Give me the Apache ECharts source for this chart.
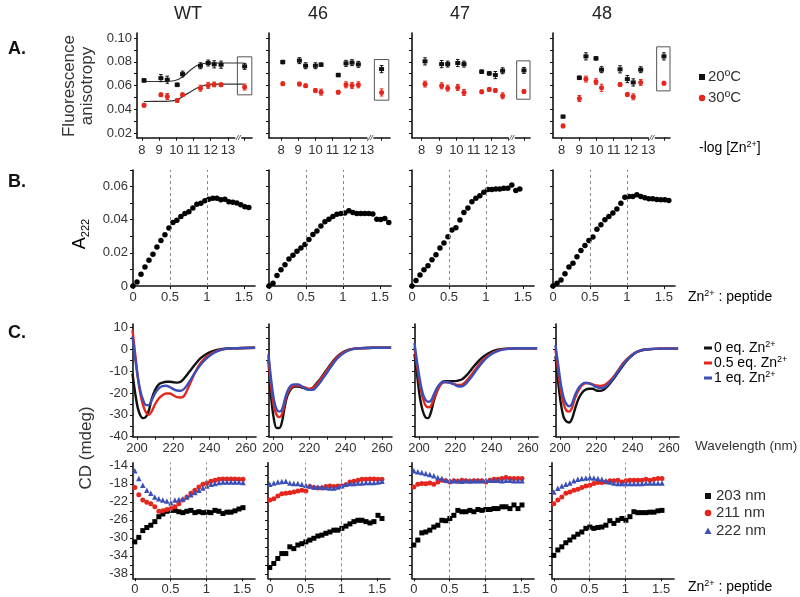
<!DOCTYPE html>
<html>
<head>
<meta charset="utf-8">
<script src="https://cdn.jsdelivr.net/npm/echarts@6/dist/echarts.min.js"></script>
<style>
  html, body { margin: 0; background: #fff; }
  #chart { width: 800px; height: 597px; }
</style>
</head>
<body>
<div id="chart"></div>
<script>
// ---- data ----
const panelNames = ['WT', '46', '47', '48'];

// A. fluorescence anisotropy vs -log[Zn2+]
const logZn = [
  [8.12, 9.1, 9.47, 10.05, 10.36, 11.4, 11.85, 12.2, 12.6, 13.97],
  [8.1, 9.07, 9.43, 10.0, 10.33, 11.33, 11.78, 12.13, 12.5, 13.85],
  [8.19, 9.15, 9.5, 10.08, 10.44, 11.46, 11.9, 12.25, 12.67, 13.9],
  [8.08, 9.02, 9.4, 9.98, 10.3, 11.37, 11.79, 12.13, 12.56, 13.9]
];
const aniso20 = [
  [0.0644, 0.0663, 0.065, 0.0607, 0.0697, 0.0767, 0.079, 0.0779, 0.0776, 0.0762],
  [0.0798, 0.081, 0.0767, 0.0767, 0.0776, 0.0689, 0.0787, 0.0793, 0.0779, 0.0739],
  [0.0804, 0.0781, 0.0781, 0.079, 0.0781, 0.0717, 0.0703, 0.0689, 0.0725, 0.0728],
  [0.034, 0.0666, 0.0846, 0.0829, 0.0734, 0.0737, 0.0655, 0.0627, 0.0734, 0.0846]
];
const aniso30 = [
  [0.0436, 0.0523, 0.0509, 0.0475, 0.0523, 0.0579, 0.0602, 0.061, 0.0607, 0.0588],
  [0.0616, 0.0613, 0.0599, 0.056, 0.0545, 0.0545, 0.0607, 0.0602, 0.0607, 0.0543],
  [0.0613, 0.0599, 0.0579, 0.0585, 0.0543, 0.0548, 0.0568, 0.056, 0.0515, 0.0551],
  [0.0262, 0.0492, 0.0655, 0.0633, 0.0582, 0.061, 0.0526, 0.0506, 0.0627, 0.0621]
];
const err20 = [
  [0.0015, 0.003, 0.003, 0.0015, 0.0025, 0.0025, 0.0025, 0.003, 0.003, 0.0025],
  [0.0015, 0.0025, 0.0025, 0.0025, 0.0015, 0.0015, 0.0025, 0.0025, 0.0025, 0.003],
  [0.003, 0.003, 0.0025, 0.003, 0.0025, 0.0015, 0.0015, 0.003, 0.0025, 0.0025],
  [0.0012, 0.0015, 0.003, 0.0015, 0.0025, 0.003, 0.003, 0.003, 0.0025, 0.003]
];
const err30 = [
  [0.0015, 0.0015, 0.0025, 0.0015, 0.0015, 0.0025, 0.0025, 0.002, 0.0015, 0.0025],
  [0.0015, 0.0015, 0.0015, 0.0015, 0.0025, 0.0015, 0.0025, 0.0025, 0.0025, 0.003],
  [0.0025, 0.0025, 0.0025, 0.0025, 0.0025, 0.0015, 0.0015, 0.0015, 0.0025, 0.0015],
  [0.0015, 0.0025, 0.0025, 0.0025, 0.003, 0.0015, 0.0015, 0.0025, 0.0025, 0.0015]
];
// WT fitted curves (traced)
const fitX = [8.1, 9.0, 9.6, 10.1, 10.5, 10.9, 11.3, 11.7, 12.1, 13.9];
const fit20 = [0.0635, 0.0635, 0.0637, 0.0652, 0.069, 0.074, 0.0775, 0.0788, 0.079, 0.079];
const fit30 = [0.0467, 0.0468, 0.047, 0.0485, 0.052, 0.0555, 0.0587, 0.0605, 0.0612, 0.0613];
const breakAt = [13.6, 13.2, 13.2, 13.2];

// B. A222 vs Zn2+ : peptide
const ratioB = [0, 0.054, 0.108, 0.162, 0.216, 0.27, 0.324, 0.378, 0.432, 0.486, 0.54, 0.594, 0.648,
  0.702, 0.756, 0.81, 0.864, 0.918, 0.972, 1.026, 1.08, 1.134, 1.188, 1.242, 1.296, 1.35, 1.404,
  1.458, 1.512, 1.566, 1.62];
const a222 = [
  [0, 0.0024, 0.0071, 0.0114, 0.0155, 0.0191, 0.0236, 0.0275, 0.031, 0.035, 0.0383, 0.0397, 0.042,
   0.0437, 0.0448, 0.047, 0.0494, 0.0499, 0.0515, 0.0523, 0.0529, 0.0529, 0.0521, 0.0523, 0.0509,
   0.0505, 0.0501, 0.049, 0.0478, 0.0474],
  [0, 0.0016, 0.0063, 0.0098, 0.0128, 0.0163, 0.0185, 0.021, 0.023, 0.025, 0.0281, 0.0311, 0.0332,
   0.0362, 0.0387, 0.0403, 0.0419, 0.0433, 0.0438, 0.044, 0.0454, 0.0444, 0.0438, 0.0438, 0.0438,
   0.0438, 0.0435, 0.0403, 0.0401, 0.0407, 0.0383],
  [0, 0.0033, 0.0067, 0.0098, 0.0122, 0.0159, 0.0189, 0.023, 0.026, 0.0297, 0.0338, 0.0352, 0.0399,
   0.0444, 0.047, 0.0509, 0.053, 0.0545, 0.0566, 0.0582, 0.0582, 0.0586, 0.0586, 0.059, 0.059,
   0.061, 0.0576, 0.0586],
  [0, 0.0016, 0.0036, 0.0074, 0.0114, 0.0138, 0.0176, 0.0214, 0.0244, 0.0274, 0.0296, 0.0342, 0.037,
   0.04, 0.042, 0.044, 0.0464, 0.05, 0.0536, 0.054, 0.054, 0.055, 0.054, 0.0532, 0.0526, 0.0526,
   0.0522, 0.052, 0.052, 0.0516]
];
const guideRatios = [0.5, 1];

// C (top). CD spectra
const wl = [197.5, 199, 200.5, 202, 203.5, 205, 206.5, 208, 210, 212, 214, 216, 218, 220, 222, 224,
  226, 229, 232, 235, 238, 241, 244, 248, 255, 265];
const cd0 = [
  [-11, -20, -27, -30.5, -31.5, -30.8, -28, -23, -18.5, -16, -15.2, -14.8, -14.8, -15, -15.2, -14.8,
   -13.2, -10, -6.8, -4, -2.2, -1, -0.2, 0.4, 0.6, 0.8],
  [-5, -22, -32, -36, -36, -33, -26, -21, -18, -17, -17, -17.5, -18, -18.5, -17.5, -15.5,
   -13.5, -10, -6.5, -3.5, -1.5, -0.3, 0.3, 0.6, 0.8, 0.8],
  [-2, -12, -22, -28, -31, -31.5, -29, -24, -19, -15.5, -14.5, -14.5, -14.5, -14.5, -14.2, -13.5,
   -12, -9, -6, -3.5, -1.8, -0.6, 0, 0.4, 0.6, 0.6],
  [-3, -15, -25, -31, -33, -33.5, -32, -28, -23, -20, -18.5, -18, -18, -18.8, -19, -18.5,
   -17, -14, -10.5, -7, -4, -1.8, -0.6, 0, 0.4, 0.4]
];
const cd05 = [
  [9, -2, -13, -21, -26, -29, -30, -28.5, -25, -22.5, -21, -20.2, -20.2, -21, -21.8, -22,
   -21.2, -16, -10.5, -6.2, -3.5, -1.8, -0.6, 0.2, 0.6, 0.8],
  [-3, -17, -26, -30, -31, -29.5, -24.5, -20, -17.5, -16.5, -16.5, -17, -17.5, -18, -17.5, -16,
   -14, -10.5, -7, -3.8, -1.7, -0.4, 0.3, 0.6, 0.8, 0.8],
  [1, -8, -16, -22, -25.5, -26.5, -26, -23, -19, -16, -15, -15, -15.5, -16, -16.3, -16,
   -14.5, -11.5, -8, -5, -2.8, -1.3, -0.3, 0.3, 0.6, 0.6],
  [0, -10, -19, -25, -28, -28.5, -27, -23, -19, -16.5, -15.5, -15.5, -16, -16.5, -16.7, -16.5,
   -15.5, -13, -9.5, -6, -3.5, -1.6, -0.5, 0.1, 0.4, 0.4]
];
const cd1 = [
  [6, -4, -13, -19.5, -23.5, -25.5, -25.5, -23.5, -20, -17.8, -16.8, -16.6, -17.2, -18.2, -18.8, -18.9,
   -18, -14.5, -10.5, -7, -4.3, -2.3, -0.9, 0.2, 0.6, 0.8],
  [-2, -14, -23, -27.5, -28.5, -27.5, -23, -19, -16.5, -16, -16, -17, -18, -18.5, -18.5, -17,
   -15, -11.5, -7.8, -4.5, -2.2, -0.7, 0.2, 0.6, 0.8, 0.8],
  [3, -6, -14, -20, -23, -24, -23.5, -21, -17.5, -15.5, -14.8, -15, -15.5, -16.3, -17, -16.8,
   -15.5, -12.5, -9, -5.8, -3.3, -1.6, -0.5, 0.2, 0.6, 0.6],
  [2, -7, -16, -22, -25, -26, -25, -21.5, -18, -16, -15.2, -15.5, -16.3, -17.2, -17.7, -17.5,
   -16.3, -13.5, -10, -6.5, -3.8, -1.7, -0.5, 0.1, 0.4, 0.4]
];

// C (bottom). CD at fixed wavelengths vs Zn2+ : peptide
const ratioC = [0, 0.056, 0.112, 0.168, 0.224, 0.28, 0.336, 0.392, 0.448, 0.504, 0.56, 0.616, 0.672,
  0.728, 0.784, 0.84, 0.896, 0.952, 1.008, 1.064, 1.12, 1.176, 1.232, 1.288, 1.344, 1.4, 1.456,
  1.512, 1.568, 1.624];
const cd203 = [
  [-30.9, -29.9, -28.4, -27.7, -27.2, -26.4, -25.3, -24.7, -24.1, -23.9, -23.9, -24.2, -24.4, -24.1,
   -23.9, -24.4, -24.2, -24.4, -24.3, -24.4, -23.9, -24.1, -24.6, -24.3, -24.3, -24.0, -23.6, -23.3],
  [-36.6, -35.7, -34.6, -33.5, -33.5, -32.0, -32.4, -31.6, -31.3, -30.9, -30.5, -30.1, -29.6, -29.4,
   -29.0, -28.7, -28.3, -28.3, -27.9, -27.4, -26.9, -26.4, -26.1, -26.1, -26.4, -26.7, -26.4, -25.0, -25.7],
  [-31.6, -30.5, -28.9, -28.7, -28.3, -27.6, -27.2, -26.1, -26.2, -25.7, -25.0, -23.9, -24.2, -24.2,
   -23.9, -24.2, -23.7, -23.9, -23.7, -23.7, -23.5, -23.5, -23.1, -23.1, -23.5, -22.7, -23.5, -22.7],
  [-33.9, -32.7, -32.0, -31.1, -30.5, -29.8, -29.2, -28.7, -27.9, -27.6, -27.9, -27.7, -27.6, -27.2,
   -26.2, -26.8, -26.1, -25.7, -26.1, -25.3, -24.2, -24.4, -24.4, -24.4, -24.3, -24.3, -24.0, -23.9]
];
const cd211 = [
  [-18.8, -20.4, -21.6, -22.1, -22.4, -23.1, -24.1, -24.0, -23.7, -23.5, -23.1, -22.4, -21.6, -20.9,
   -20.1, -19.4, -18.7, -18.1, -17.8, -17.4, -17.2, -17.0, -16.9, -16.9, -16.9, -16.9, -17.0, -17.0],
  [-21.6, -21.3, -20.7, -20.2, -20.1, -20.0, -19.8, -19.6, -19.4, -19.6, -18.6, -18.8, -18.9, -18.9,
   -18.6, -18.5, -18.6, -18.5, -18.5, -18.2, -17.6, -17.4, -17.2, -17.0, -17.0, -16.9, -16.9, -17.0, -17.0],
  [-18.7, -18.1, -17.9, -18.0, -17.8, -18.1, -17.6, -17.2, -17.3, -17.6, -17.3, -17.4, -17.2, -17.3,
   -17.4, -17.3, -17.3, -17.3, -17.6, -17.2, -17.0, -17.0, -16.8, -16.6, -16.8, -16.8, -16.8, -16.8],
  [-22.4, -21.6, -20.9, -20.1, -19.8, -19.4, -19.2, -18.8, -18.5, -18.3, -17.9, -17.7, -17.7, -17.6,
   -17.3, -17.3, -17.2, -17.6, -17.3, -17.2, -17.2, -17.2, -17.2, -17.0, -17.2, -17.0, -16.8, -16.8]
];
const cd222 = [
  [-15.1, -16.8, -18.3, -19.4, -20.1, -20.9, -21.3, -21.6, -21.8, -22.2, -21.6, -21.5, -21.3, -20.9,
   -20.4, -19.9, -19.4, -18.9, -18.5, -18.1, -17.9, -17.7, -17.6, -17.6, -17.6, -17.6, -17.6, -17.7],
  [-18.1, -17.8, -17.6, -17.5, -17.4, -17.8, -17.9, -17.9, -18.1, -18.3, -18.5, -18.7, -18.7, -18.7,
   -18.8, -18.9, -18.9, -18.7, -18.4, -18.1, -17.9, -17.9, -17.8, -17.8, -17.7, -17.7, -17.7, -17.6, -17.4],
  [-15.1, -15.3, -15.5, -15.7, -15.9, -16.2, -16.6, -16.8, -17.2, -17.3, -17.3, -17.3, -17.4, -17.3,
   -17.3, -17.3, -17.3, -17.3, -17.2, -17.2, -17.2, -17.2, -17.3, -17.2, -17.2, -17.3, -17.3, -17.3],
  [-19.8, -19.0, -18.5, -18.1, -17.8, -17.3, -17.0, -16.8, -16.7, -16.6, -16.7, -16.8, -17.0, -17.3,
   -17.6, -17.8, -17.9, -17.9, -17.9, -17.9, -17.9, -17.9, -17.9, -17.8, -17.8, -17.8, -17.8, -17.8]
];

// ---- drawing ----
const FONT = '"Liberation Sans", Arial, sans-serif';
const INK = '#111';
const RED = '#e5261c';
const BLUE = '#3b4fb6';
const LABEL = '#333';

const grids = [], xAxes = [], yAxes = [], series = [];

function axis(min, max, labelVals, tickVals, showLabels, fmt) {
  return {
    type: 'value', min: min, max: max,
    splitLine: { show: false },
    axisLine: { show: true, onZero: false, lineStyle: { color: INK, width: 1.6 } },
    axisTick: { show: true, length: 3, customValues: tickVals, lineStyle: { color: INK, width: 1 } },
    axisLabel: {
      show: showLabels, customValues: labelVals, color: LABEL, fontSize: 13,
      fontFamily: FONT, margin: 5, formatter: fmt
    }
  };
}

function addGrid(box, xa, ya) {
  const i = grids.length;
  grids.push({ left: box[0], top: box[1], width: box[2], height: box[3] });
  xa.gridIndex = i;
  ya.gridIndex = i;
  xAxes.push(xa);
  yAxes.push(ya);
  return i;
}

function errBar(color) {
  return function (params, api) {
    const lo = api.coord([api.value(0), api.value(1)]);
    const hi = api.coord([api.value(0), api.value(2)]);
    const st = { stroke: color, lineWidth: 1 };
    return {
      type: 'group', children: [
        { type: 'line', shape: { x1: lo[0], y1: lo[1], x2: hi[0], y2: hi[1] }, style: st },
        { type: 'line', shape: { x1: lo[0] - 1.8, y1: lo[1], x2: lo[0] + 1.8, y2: lo[1] }, style: st },
        { type: 'line', shape: { x1: hi[0] - 1.8, y1: hi[1], x2: hi[0] + 1.8, y2: hi[1] }, style: st }
      ]
    };
  };
}

const guideLine = {
  silent: true, symbol: 'none', label: { show: false },
  lineStyle: { color: '#8a8a8a', type: [3, 3], width: 1 },
  data: guideRatios.map(v => ({ xAxis: v }))
};

const fmt2 = v => (v === 0 ? '0' : v.toFixed(2));

// panel layout
const aLeft = [137, 269, 412, 553], aWidth = [115, 121, 118, 117];
const aMin = [7.71, 7.3, 7.44, 7.5], aMax = [14.4, 14.34, 14.25, 14.25];
const bLeft = [133, 269, 412, 553];
const cLeft = [133, 269, 415, 556];
const dLeft = [133, 268, 412, 552];
const A_YMIN = 0.0163, A_YMAX = 0.1042;

for (let c = 0; c < 4; c++) {
  // ---- A ----
  const ga = addGrid([aLeft[c], 33, aWidth[c], 104.7],
    axis(aMin[c], aMax[c], [8, 9, 10, 11, 12, 13], [8, 9, 10, 11, 12, 13, logZn[c][9]], true),
    axis(A_YMIN, A_YMAX, [0.02, 0.04, 0.06, 0.08, 0.1], [0.02, 0.03, 0.04, 0.05, 0.06, 0.07, 0.08, 0.09, 0.1], c === 0, fmt2));
  xAxes[ga].axisLabel.margin = 6;
  const last = logZn[c].length - 1;
  series.push({
    type: 'custom', xAxisIndex: ga, yAxisIndex: ga, silent: true, z: 2,
    renderItem: errBar(INK), encode: { x: 0, y: [1, 2] },
    data: logZn[c].map((x, k) => [x, aniso20[c][k] - err20[c][k], aniso20[c][k] + err20[c][k]])
  });
  series.push({
    type: 'custom', xAxisIndex: ga, yAxisIndex: ga, silent: true, z: 2,
    renderItem: errBar(RED), encode: { x: 0, y: [1, 2] },
    data: logZn[c].map((x, k) => [x, aniso30[c][k] - err30[c][k], aniso30[c][k] + err30[c][k]])
  });
  series.push({
    type: 'scatter', xAxisIndex: ga, yAxisIndex: ga, z: 3,
    symbol: 'rect', symbolSize: [5, 4], itemStyle: { color: INK, opacity: 1 },
    data: logZn[c].map((x, k) => [x, aniso20[c][k]]),
    markArea: {
      silent: true,
      itemStyle: { color: 'rgba(0,0,0,0)', borderColor: '#555', borderWidth: 1 },
      data: [[
        { xAxis: logZn[c][last] - 0.42, yAxis: aniso30[c][last] - 0.0065 },
        { xAxis: logZn[c][last] + 0.42, yAxis: aniso20[c][last] + 0.008 }
      ]]
    },
    markPoint: {
      silent: true, symbol: 'rect', symbolSize: [6, 5], itemStyle: { color: '#fff' },
      label: { show: true, formatter: '//', color: INK, fontSize: 8, fontStyle: 'italic', position: 'inside' },
      data: [{ coord: [breakAt[c], A_YMIN] }]
    }
  });
  series.push({
    type: 'scatter', xAxisIndex: ga, yAxisIndex: ga, z: 3,
    symbol: 'circle', symbolSize: 5, itemStyle: { color: RED, opacity: 1 },
    data: logZn[c].map((x, k) => [x, aniso30[c][k]])
  });
  if (c === 0) {
    [fit20, fit30].forEach(f => series.push({
      type: 'line', xAxisIndex: ga, yAxisIndex: ga, smooth: 0.4, showSymbol: false, silent: true, z: 1,
      lineStyle: { color: '#333', width: 1.2 },
      data: fitX.map((x, k) => [x, f[k]])
    }));
  }

  // ---- B ----
  const gb = addGrid([bLeft[c], 170, 122, 116],
    axis(0, 1.65, [0, 0.5, 1, 1.5], [0, 0.5, 1, 1.5], true),
    axis(0, 0.07, [0, 0.02, 0.04, 0.06], [0, 0.01, 0.02, 0.03, 0.04, 0.05, 0.06, 0.07], c === 0, fmt2));
  series.push({
    type: 'scatter', xAxisIndex: gb, yAxisIndex: gb, z: 3,
    symbol: 'circle', symbolSize: 5.5, itemStyle: { color: '#000', opacity: 1 },
    data: a222[c].map((v, k) => [ratioB[k], v]),
    markLine: guideLine
  });

  // ---- C top ----
  const gc = addGrid([cLeft[c], 324, 123, 112.7],
    axis(197.8, 265.5, [200, 220, 240, 260], [200, 210, 220, 230, 240, 250, 260], true),
    axis(-40, 11.7, [-40, -30, -20, -10, 0, 10], [-40, -35, -30, -25, -20, -15, -10, -5, 0, 5, 10], c === 0));
  [[cd0, INK], [cd05, RED], [cd1, BLUE]].forEach(([arr, col]) => series.push({
    type: 'line', xAxisIndex: gc, yAxisIndex: gc, smooth: 0.35, showSymbol: false, silent: true,
    lineStyle: { color: col, width: 2.4 },
    data: arr[c].map((v, k) => [wl[k], v])
  }));

  // ---- C bottom ----
  const gd = addGrid([dLeft[c], 462.7, 122, 115.6],
    axis(-0.025, 1.68, [0, 0.5, 1, 1.5], [0, 0.5, 1, 1.5], true),
    axis(-39, -13.3, [-38, -34, -30, -26, -22, -18, -14], [-38, -36, -34, -32, -30, -28, -26, -24, -22, -20, -18, -16, -14], c === 0));
  series.push({
    type: 'scatter', xAxisIndex: gd, yAxisIndex: gd, z: 3,
    symbol: 'rect', symbolSize: 5, itemStyle: { color: '#000', opacity: 1 },
    data: cd203[c].map((v, k) => [ratioC[k], v]),
    markLine: guideLine
  });
  series.push({
    type: 'scatter', xAxisIndex: gd, yAxisIndex: gd, z: 3,
    symbol: 'circle', symbolSize: 5, itemStyle: { color: RED, opacity: 1 },
    data: cd211[c].map((v, k) => [ratioC[k], v])
  });
  series.push({
    type: 'scatter', xAxisIndex: gd, yAxisIndex: gd, z: 4,
    symbol: 'triangle', symbolSize: 5.5, itemStyle: { color: BLUE, opacity: 1 },
    data: cd222[c].map((v, k) => [ratioC[k], v])
  });
}

// ---- text and legends ----
const txt = (x, y, text, extra) => ({
  type: 'text', x: x, y: y, silent: true,
  style: Object.assign({ text: text, fill: LABEL, font: '14px ' + FONT, verticalAlign: 'middle' }, extra || {})
});
const supRich = {
  b: { fontSize: 14, fontFamily: FONT, color: LABEL, lineHeight: 15 },
  s: { fontSize: 9, fontFamily: FONT, color: LABEL, verticalAlign: 'top', lineHeight: 9 }
};
const graphics = [];
const titleX = [188, 318, 460, 602];
panelNames.forEach((n, i) => graphics.push(txt(titleX[i], 14, n,
  { align: 'center', font: '18px ' + FONT, fill: '#222' })));
graphics.push(txt(8, 49, 'A.', { font: 'bold 18px ' + FONT, fill: '#111' }));
graphics.push(txt(8, 182, 'B.', { font: 'bold 18px ' + FONT, fill: '#111' }));
graphics.push(txt(8, 333, 'C.', { font: 'bold 18px ' + FONT, fill: '#111' }));

// y titles (rotated)
graphics.push({
  type: 'text', x: 78, y: 86, rotation: Math.PI / 2, silent: true,
  style: { text: 'Fluorescence\nanisotropy', fill: LABEL, font: '17px ' + FONT, align: 'center', verticalAlign: 'middle', lineHeight: 18 }
});
graphics.push({
  type: 'text', x: 80, y: 234, rotation: Math.PI / 2, silent: true,
  style: {
    text: '{b|A}{s|222}', align: 'center', verticalAlign: 'middle',
    rich: {
      b: { fontSize: 18, fontFamily: FONT, color: LABEL, lineHeight: 22 },
      s: { fontSize: 11, fontFamily: FONT, color: LABEL, verticalAlign: 'bottom', lineHeight: 11 }
    }
  }
});
graphics.push({
  type: 'text', x: 86, y: 448, rotation: Math.PI / 2, silent: true,
  style: { text: 'CD (mdeg)', fill: LABEL, font: '17px ' + FONT, align: 'center', verticalAlign: 'middle' }
});

// x titles
const richTitle = (x, y, text) => ({
  type: 'text', x: x, y: y, silent: true,
  style: { text: text, rich: supRich, verticalAlign: 'middle' }
});
graphics.push(richTitle(699, 148, '{b|-log [Zn}{s|2+}{b|]}'));
graphics.push(richTitle(688, 297, '{b|Zn}{s|2+}{b| : peptide}'));
graphics.push(txt(695, 446, 'Wavelength (nm)', { font: '13.5px ' + FONT }));
graphics.push(richTitle(688, 587, '{b|Zn}{s|2+}{b| : peptide}'));

// A legend
graphics.push({ type: 'rect', shape: { x: 699, y: 74, width: 6, height: 6 }, style: { fill: INK }, silent: true });
graphics.push(txt(708, 77, '20ºC', { font: '15px ' + FONT }));
graphics.push({ type: 'circle', shape: { cx: 702, cy: 98, r: 3.2 }, style: { fill: RED }, silent: true });
graphics.push(txt(708, 98, '30ºC', { font: '15px ' + FONT }));

// CD spectra legend
const specLeg = [['0 eq. Zn', INK, 348], ['0.5 eq. Zn', RED, 363], ['1 eq. Zn', BLUE, 378]];
specLeg.forEach(([t, col, y]) => {
  graphics.push({ type: 'rect', shape: { x: 704, y: y - 1.5, width: 8, height: 3 }, style: { fill: col }, silent: true });
  graphics.push(richTitle(714, y, '{b|' + t + '}{s|2+}'));
});

// single wavelength legend
graphics.push({ type: 'rect', shape: { x: 705, y: 493, width: 6, height: 6 }, style: { fill: INK }, silent: true });
graphics.push(txt(716, 496, '203 nm', { font: '15px ' + FONT }));
graphics.push({ type: 'circle', shape: { cx: 708, cy: 513, r: 3.3 }, style: { fill: RED }, silent: true });
graphics.push(txt(716, 513, '211 nm', { font: '15px ' + FONT }));
graphics.push({ type: 'polygon', shape: { points: [[708, 527.5], [711.5, 534], [704.5, 534]] }, style: { fill: BLUE }, silent: true });
graphics.push(txt(716, 531, '222 nm', { font: '15px ' + FONT }));

const chart = echarts.init(document.getElementById('chart'), null, { renderer: 'canvas' });
chart.setOption({
  backgroundColor: '#fff',
  animation: false,
  grid: grids,
  xAxis: xAxes,
  yAxis: yAxes,
  series: series,
  graphic: graphics
});
</script>
</body>
</html>
